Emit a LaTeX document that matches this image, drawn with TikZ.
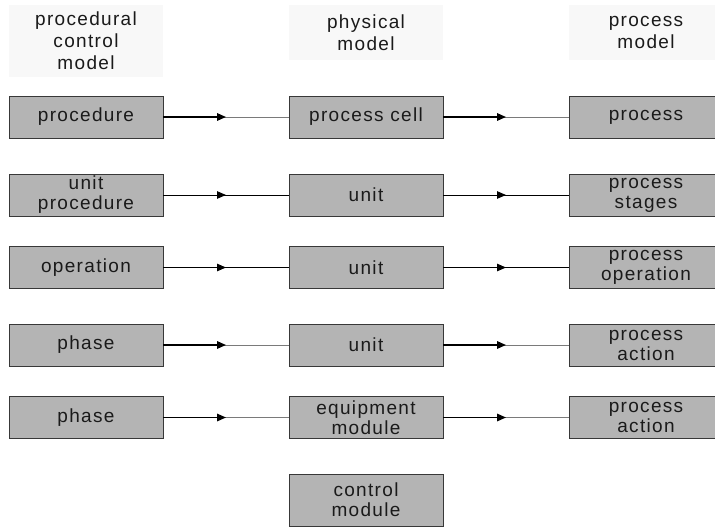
\documentclass[tikz,border=0pt]{standalone}
\usepackage{fontspec}
\setmainfont{Liberation Sans}[LetterSpace=7]
\usetikzlibrary{arrows.meta,calc}
\definecolor{boxfill}{HTML}{B4B4B4}
\definecolor{boxline}{HTML}{383838}
\definecolor{headfill}{HTML}{F8F8F8}
\definecolor{inktext}{HTML}{1A1A1A}
\definecolor{fadeline}{HTML}{7A7A7A}
\tikzset{
  modelbox/.style={draw=boxline, line width=0.9pt, fill=boxfill, text=inktext,
    inner sep=0pt, minimum width=154pt, minimum height=42pt, align=center,
    font=\fontsize{19}{20}\selectfont},
  headbox/.style={fill=headfill, text=inktext, inner sep=0pt, align=center,
    minimum width=154pt, font=\fontsize{19}{22}\selectfont},
  tipend/.style={-{Triangle[length=9pt,width=7.5pt]}},
  boldlink/.style={line width=1.6pt, black, tipend},
  fadelink/.style={line width=0.9pt, fadeline},
  thinlink/.style={line width=0.9pt, black},
}
\begin{document}
\begin{tikzpicture}[x=1pt,y=-1pt]
\useasboundingbox (0,0) rectangle (715,527);

% column headings
\node[headbox, minimum height=72pt] (hproc) at (86,41) {procedural\\control\\model};
\node[headbox, minimum height=55pt] (hphys) at (366,32.5) {physical\\model};
\node[headbox, minimum height=55pt] (hpm) at (646,32.5) {process\\model};

% procedural control model
\node[modelbox] (l1) at (86,117) {procedure};
\node[modelbox] (l2) at (86,195) {unit\\procedure};
\node[modelbox] (l3) at (86,267.5) {operation};
\node[modelbox] (l4) at (86,345) {phase};
\node[modelbox] (l5) at (86,417.5) {phase};

% physical model
\node[modelbox] (m1) at (366,117) {process cell};
\node[modelbox] (m2) at (366,195) {unit};
\node[modelbox] (m3) at (366,267.5) {unit};
\node[modelbox] (m4) at (366,345) {unit};
\node[modelbox] (m5) at (366,417.5) {equipment\\module};
\node[modelbox, minimum height=52pt] (m6) at (366,500) {control\\module};

% process model (runs past the right page edge)
\node[modelbox] (r1) at (646,117) {process};
\node[modelbox] (r2) at (646,195) {process\\stages};
\node[modelbox] (r3) at (646,267.5) {process\\operation};
\node[modelbox] (r4) at (646,345) {process\\action};
\node[modelbox] (r5) at (646,417.5) {process\\action};

% bold half-links: black with arrow, then a faded run into the target
\foreach \a/\b in {l1/m1, m1/r1, l4/m4, m4/r4, l5/m5, m5/r5}{
  \draw[fadelink] (\a.east) -- (\b.west);
  \draw[boldlink] (\a.east) -- ($(\a.east)!0.5!(\b.west)$);
}
% plain thin links with a midway arrow
\foreach \a/\b in {l2/m2, m2/r2, l3/m3, m3/r3}{
  \draw[thinlink] (\a.east) -- (\b.west);
  \draw[thinlink, tipend] (\a.east) -- ($(\a.east)!0.5!(\b.west)$);
}
\end{tikzpicture}
\end{document}
